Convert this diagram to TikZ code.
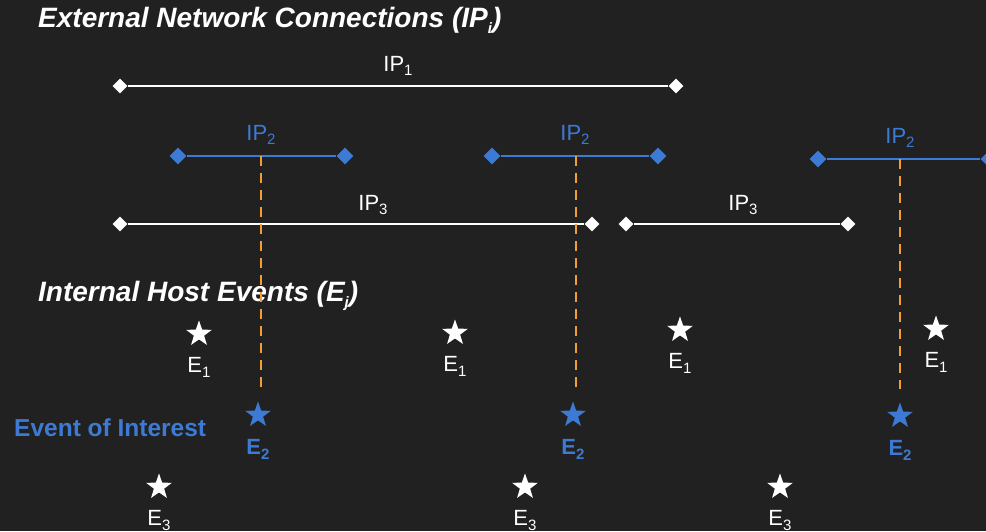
\documentclass[tikz,border=0pt]{standalone}
\usepackage{fontspec}
\setmainfont{Liberation Sans}
\usetikzlibrary{shapes.geometric,positioning}

\definecolor{bgdark}{HTML}{212121}
\definecolor{ipblue}{HTML}{3D7AD4}
\definecolor{linkorange}{HTML}{F0A030}
\newcommand{\lowsub}[1]{\raisebox{-0.4ex}{\fontsize{15}{15}\selectfont #1}}

\tikzset{
  wdiam/.style={diamond, fill=white, inner sep=0pt, minimum size=15pt},
  bdiam/.style={diamond, fill=ipblue, inner sep=0pt, minimum size=17pt},
  wline/.style={white, line width=1.6pt},
  bline/.style={ipblue, line width=1.6pt},
  wstar/.style={star, star points=5, star point ratio=2.5, fill=white, inner sep=0pt, minimum size=27pt},
  bstar/.style={wstar, fill=ipblue},
  iplabel/.style={font=\fontsize{22}{26}\selectfont, inner sep=0pt},
  evlabel/.style={white, font=\fontsize{22}{26}\selectfont, inner sep=0pt},
  headline/.style={white, anchor=west, inner sep=0pt, font=\fontsize{28}{32}\selectfont\bfseries\itshape},
  linkdash/.style={linkorange, line width=2.4pt, dash pattern=on 10pt off 7pt}
}

\begin{document}
\begin{tikzpicture}[x=1pt, y=-1pt]
    \fill[bgdark] (0,0) rectangle (986,531);
    \useasboundingbox (0,0) rectangle (986,531);

    % headings
    \node[headline] (ext) at (38,20) {External Network Connections (IP\lowsub{\textit{i}})};
    \node[headline] (int) at (38,296) {Internal Host Events (E\lowsub{\textit{j}})};
    \node[ipblue, anchor=west, inner sep=0pt, font=\fontsize{24.5}{28}\selectfont\bfseries] (interest) at (14,428) {Event of Interest};

    % IP1
    \node[wdiam] (a1) at (120,86) {};
    \node[wdiam] (b1) at (676,86) {};
    \draw[wline] (a1) -- (b1);
    \node[iplabel, white] (ip1) at (398,66) {IP\lowsub{1}};

    % IP2
    \node[bdiam] (c1) at (178,156) {};
    \node[bdiam] (d1) at (345,156) {};
    \node[bdiam] (c2) at (492,156) {};
    \node[bdiam] (d2) at (658,156) {};
    \node[bdiam] (c3) at (818,159) {};
    \node[bdiam] (d3) at (989,159) {};
    \draw[bline] (c1) -- (d1);
    \draw[bline] (c2) -- (d2);
    \draw[bline] (c3) -- (d3);
    \node[iplabel, ipblue] (ip2a) at (261,135) {IP\lowsub{2}};
    \node[iplabel, ipblue] (ip2b) at (575,135) {IP\lowsub{2}};
    \node[iplabel, ipblue] (ip2c) at (900,138) {IP\lowsub{2}};

    % IP3
    \node[wdiam] (e1) at (120,224) {};
    \node[wdiam] (f1) at (592,224) {};
    \node[wdiam] (e2) at (626,224) {};
    \node[wdiam] (f2) at (848,224) {};
    \draw[wline] (e1) -- (f1);
    \draw[wline] (e2) -- (f2);
    \node[iplabel, white] (ip3a) at (373,205) {IP\lowsub{3}};
    \node[iplabel, white] (ip3b) at (743,205) {IP\lowsub{3}};

    % host events
    \foreach \n/\px/\py in {1/199/334, 2/455/333, 3/680/330, 4/936/329} {
        \node[wstar] (one\n) at (\px,\py) {};
        \node[evlabel, below=18pt of one\n] (onelab\n) {E\lowsub{1}};
    }
    \foreach \n/\px/\py in {1/258/415, 2/573/415, 3/900/416} {
        \node[bstar] (two\n) at (\px,\py) {};
        \node[evlabel, ipblue, font=\fontsize{22}{26}\selectfont\bfseries, below=19pt of two\n] (twolab\n) {E\lowsub{2}};
    }
    \foreach \n/\px/\py in {1/159/487, 2/525/487, 3/780/487} {
        \node[wstar] (three\n) at (\px,\py) {};
        \node[evlabel, below=18pt of three\n] (threelab\n) {E\lowsub{3}};
    }

    % links from IP2 to the event of interest
    \coordinate (k1) at (261,156);
    \coordinate (k2) at (576,156);
    \coordinate (k3) at (900,159);
    \foreach \n in {1,2,3} {
        \draw[linkdash, shorten >=13pt] (k\n) -- (k\n |- two\n.north);
    }
\end{tikzpicture}
\end{document}
